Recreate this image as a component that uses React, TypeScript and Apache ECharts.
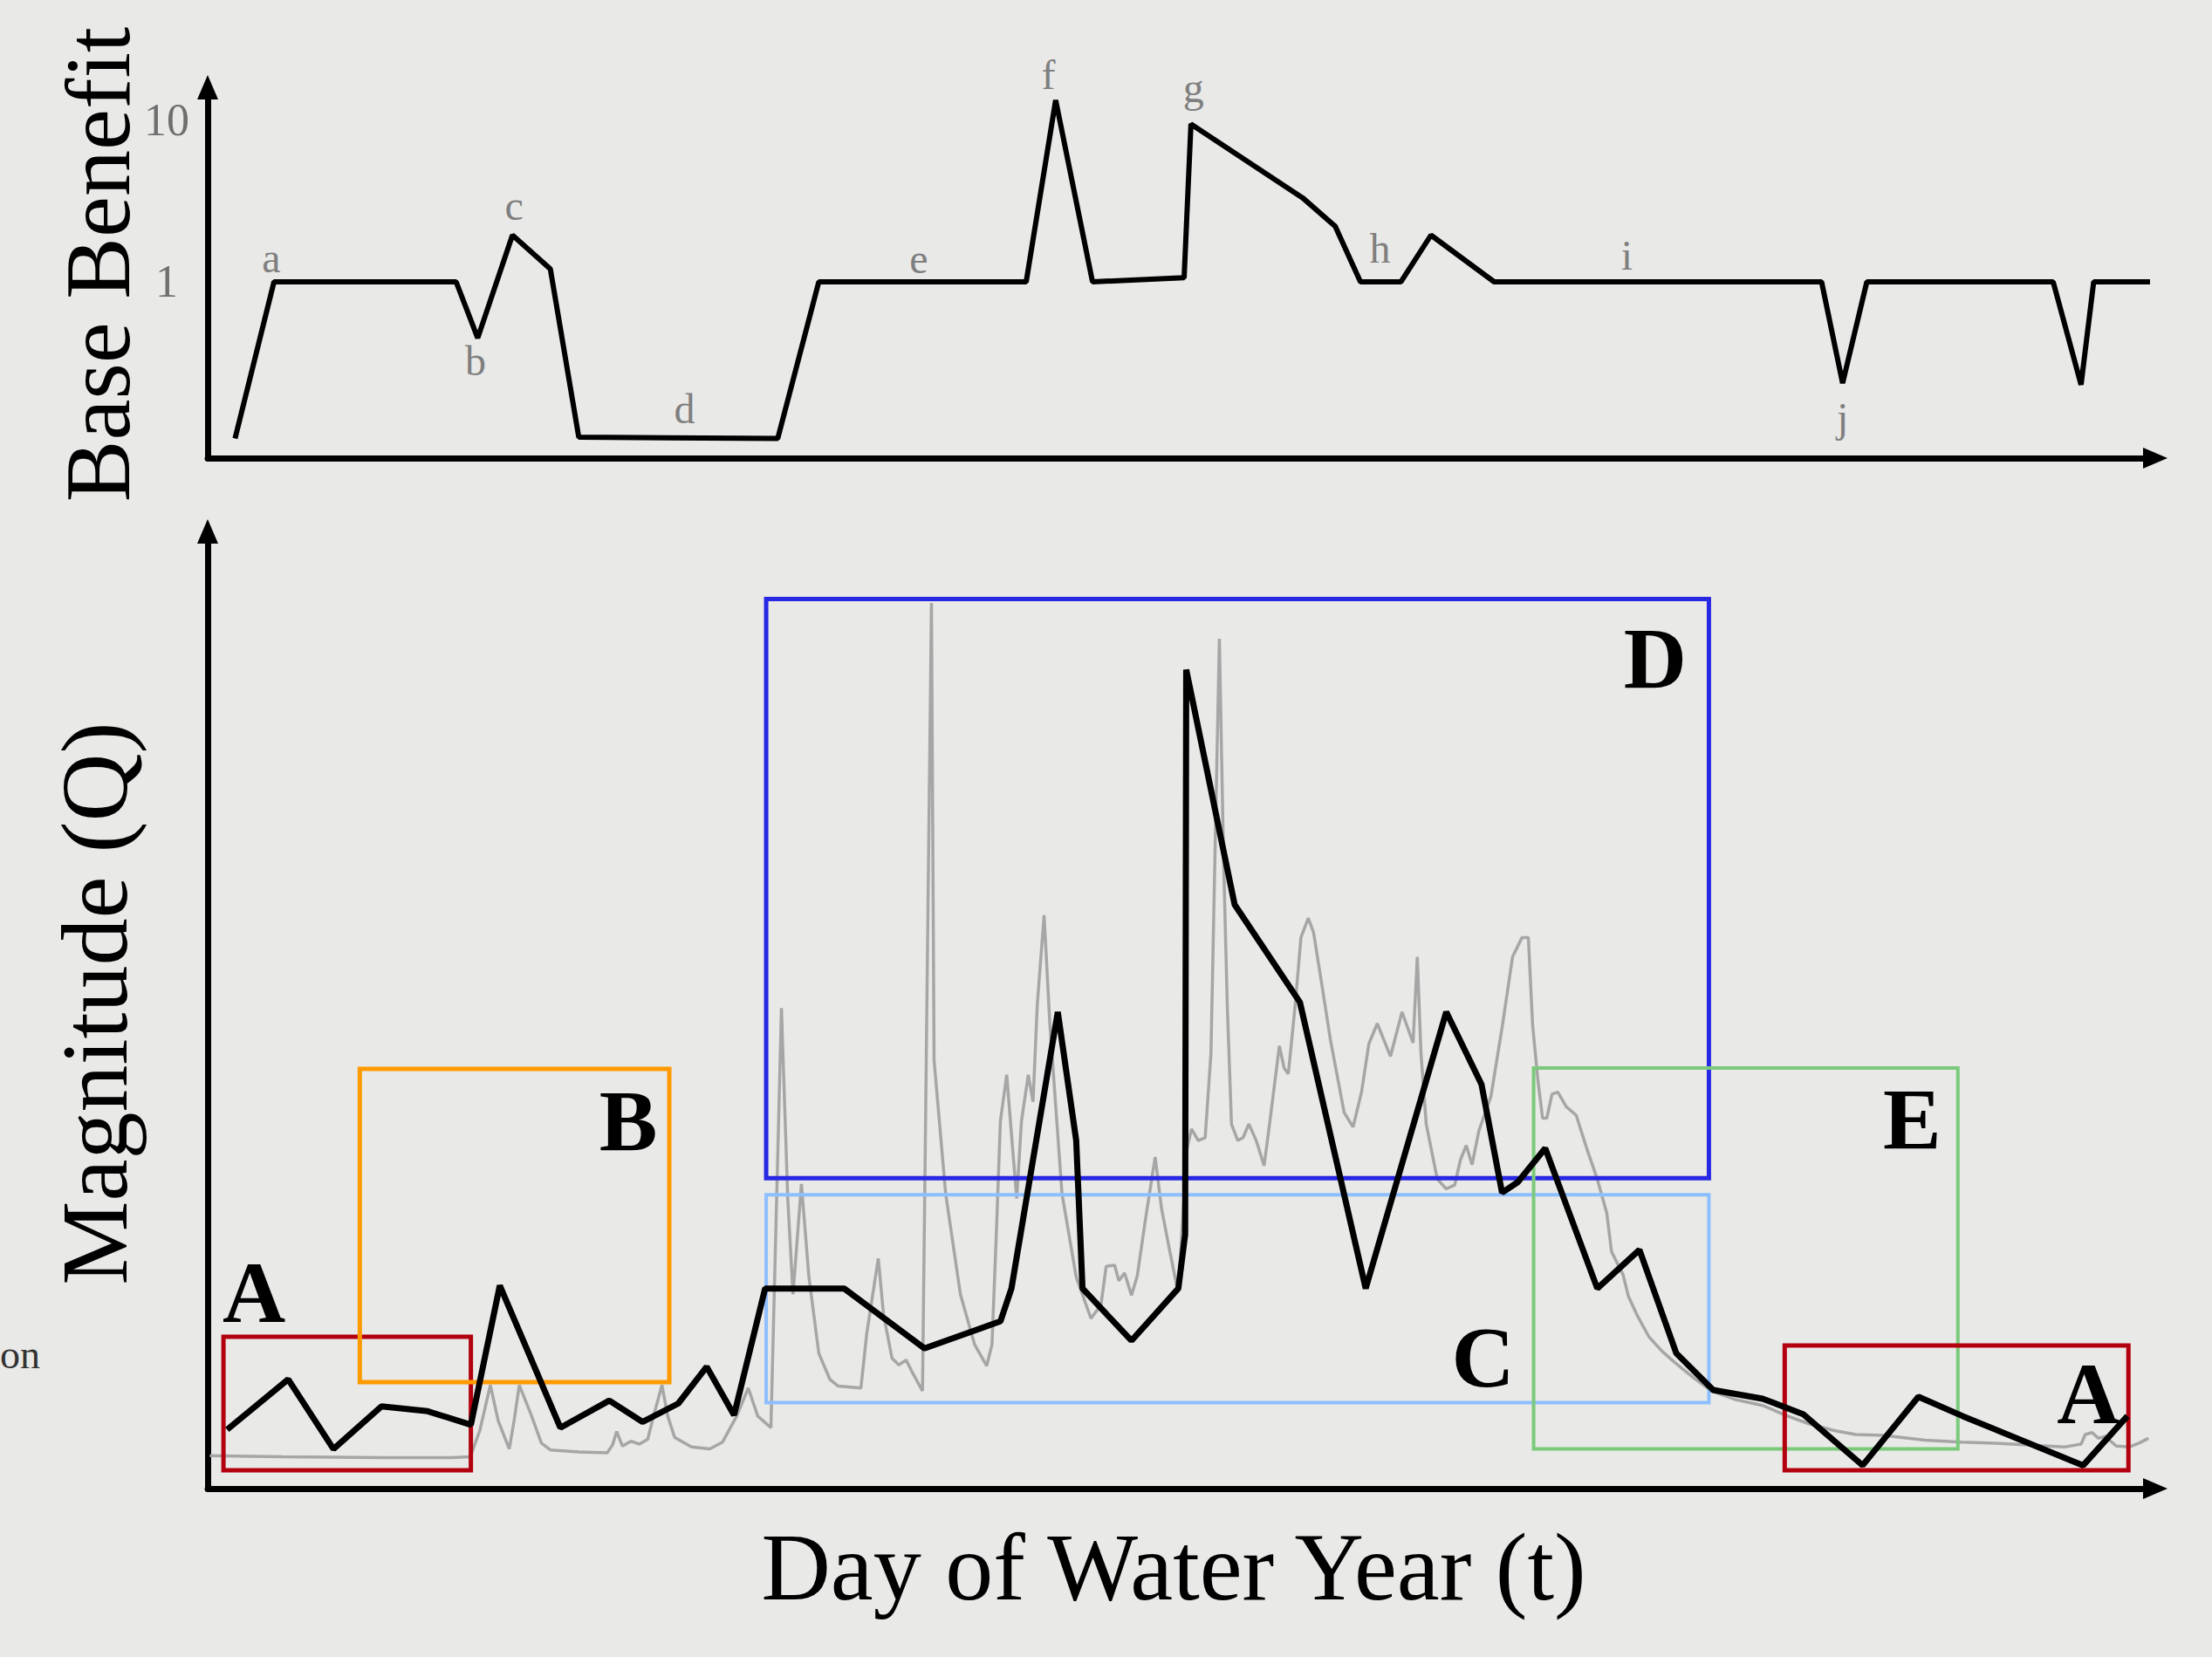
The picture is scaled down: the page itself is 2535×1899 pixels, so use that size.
import React, { useEffect, useRef } from 'react';
import * as echarts from 'echarts';

// ---------- Top panel: Base Benefit (log scale) ----------
const benefitDays = [5.2, 12.6, 47.2, 51.3, 57.9, 65.1, 70.5, 108.3, 116.1, 155.5, 161.1, 168.1, 185.5, 186.8, 208.0, 214.2, 219.0, 226.7, 232.4, 244.4, 306.6, 310.6, 315.2, 350.6, 355.9, 358.3, 369];
const benefitValues = [0.108, 1, 1, 0.45, 1.94, 1.2, 0.11, 0.108, 1, 1, 13.2, 1, 1.06, 9.4, 3.3, 2.2, 1, 1, 1.94, 1, 1, 0.237, 1, 1, 0.232, 1, 1];
const benefitTickLabels = [1, 10];

const letterNames = ['a', 'b', 'c', 'd', 'e', 'f', 'g', 'h', 'i', 'j'];
const letterDays = [12.1, 50.9, 58.2, 90.6, 135.1, 159.7, 187.3, 222.7, 269.6, 310.6];
const letterValues = [1.41, 0.326, 2.95, 0.165, 1.38, 19, 15.8, 1.62, 1.46, 0.146];

// ---------- Bottom panel: Magnitude (Q) ----------
// observed daily flow (grey)
const obsDays = [0.4, 14.2, 33.0, 46.4, 49.9, 51.7, 53.7, 55.2, 57.3, 58.2, 59.2, 61.4, 63.4, 65.1, 70.5, 75.9, 76.9, 77.7, 78.8, 80.4, 82.0, 83.6, 84.7, 86.3, 87.4, 88.7, 91.9, 95.4, 97.8, 100.5, 102.7, 104.5, 107.0, 109.0, 110.2, 111.2, 112.8, 114.2, 116.1, 118.2, 119.8, 124.1, 125.2, 127.4, 128.4, 130.0, 131.3, 132.7, 133.7, 135.8, 137.5, 138.0, 140.2, 143.0, 145.7, 148.0, 149.0, 149.8, 150.6, 151.8, 152.8, 153.7, 154.6, 155.9, 156.8, 157.6, 158.9, 160.0, 162.3, 165.0, 167.8, 169.7, 170.7, 172.3, 173.1, 174.2, 175.5, 176.6, 178.2, 180.0, 181.2, 182.8, 184.1, 184.6, 186.0, 186.9, 188.2, 189.5, 190.6, 192.2, 193.0, 193.7, 194.5, 195.7, 196.7, 197.8, 199.2, 200.7, 201.8, 203.6, 204.5, 205.3, 206.6, 207.7, 209.1, 210.1, 211.7, 213.3, 215.9, 217.6, 219.2, 220.6, 222.2, 224.7, 226.9, 229.0, 229.8, 230.5, 231.5, 233.6, 235.3, 236.9, 238.0, 239.1, 240.2, 241.5, 243.8, 246.0, 247.9, 249.7, 250.9, 251.7, 252.7, 253.6, 254.4, 255.4, 256.5, 258.1, 260.0, 262.1, 264.0, 265.8, 266.7, 268.9, 269.9, 271.5, 273.8, 276.3, 278.6, 282.2, 285.7, 290.3, 295.4, 299.7, 304.2, 309.0, 313.1, 318.4, 326.2, 333.2, 339.6, 346.5, 352.7, 355.9, 356.7, 358.0, 359.2, 360.5, 362.6, 365.0, 366.9, 368.7];
const obsQ = [3.4, 3.3, 3.2, 3.2, 3.3, 6.0, 10.7, 7.0, 4.1, 7.0, 10.7, 7.7, 4.7, 4.0, 3.8, 3.7, 4.5, 5.9, 4.4, 4.9, 4.6, 5.1, 7.5, 10.7, 7.5, 5.3, 4.3, 4.1, 4.8, 7.5, 10.4, 7.5, 6.3, 49.7, 30.0, 20.1, 31.5, 22.0, 14.0, 11.3, 10.6, 10.4, 16.0, 23.8, 18.0, 13.5, 12.8, 13.3, 12.2, 10.1, 91.6, 44.3, 30.5, 20.1, 14.9, 12.7, 14.9, 26.0, 38.0, 42.8, 36.0, 30.0, 38.0, 42.8, 40.0, 50.0, 59.3, 48.0, 30.5, 21.9, 17.6, 19.0, 23.0, 23.1, 21.5, 22.3, 20.0, 22.0, 28.0, 34.3, 29.0, 24.5, 21.0, 22.0, 35.0, 37.2, 36.0, 36.3, 45.0, 87.9, 65.0, 50.0, 37.7, 36.0, 36.3, 37.7, 36.0, 33.4, 38.0, 45.8, 43.5, 42.9, 50.0, 57.0, 59.0, 57.5, 52.0, 46.4, 38.9, 37.4, 41.0, 46.0, 48.1, 44.7, 49.3, 46.1, 55.0, 45.0, 37.7, 32.0, 31.0, 31.4, 34.0, 35.5, 33.5, 37.0, 40.6, 48.0, 55.0, 57.0, 57.0, 48.0, 42.3, 38.3, 38.3, 40.8, 41.0, 39.5, 38.6, 35.0, 32.0, 28.5, 24.5, 22.1, 19.9, 18.0, 15.7, 14.2, 13.1, 11.5, 10.1, 9.2, 8.6, 7.6, 6.7, 6.0, 5.6, 5.5, 5.0, 4.8, 4.7, 4.5, 4.3, 4.6, 5.6, 5.8, 5.2, 5.4, 4.4, 4.3, 4.7, 5.2];

// modelled / representative flow (black)
const modelDays = [3.7, 15.3, 23.9, 33.0, 41.8, 50.0, 55.5, 67.0, 76.3, 82.6, 89.4, 94.8, 100.0, 105.9, 120.9, 136.2, 150.6, 152.7, 161.5, 165.0, 166.2, 175.5, 184.4, 185.7, 185.9, 195.1, 207.5, 220.0, 235.3, 242.0, 245.9, 248.9, 254.1, 264.0, 272.0, 279.0, 286.0, 295.4, 303.1, 314.4, 325.0, 333.4, 356.3, 364.7];
const modelQ = [6.1, 11.3, 4.1, 8.5, 8.0, 6.6, 21.0, 6.3, 9.1, 6.9, 8.8, 12.6, 7.6, 20.7, 20.7, 14.5, 17.3, 20.7, 49.3, 36.0, 20.7, 15.3, 20.7, 26.3, 84.7, 60.4, 50.3, 20.7, 49.3, 41.8, 30.6, 31.7, 35.2, 20.7, 24.7, 14.0, 10.2, 9.3, 7.7, 2.4, 9.5, 7.5, 2.4, 7.5];

// annotation boxes (day range x Q range)
const boxNames = ['A', 'B', 'D', 'C', 'E', 'A'];
const boxDayStart = [3.0, 28.9, 106.1, 106.1, 251.9, 299.6];
const boxDayEnd = [50.0, 87.7, 285.2, 285.2, 332.5, 364.9];
const boxQLow = [1.9, 11.0, 32.1, 8.9, 4.1, 1.9];
const boxQHigh = [15.7, 43.4, 92.0, 30.4, 43.5, 14.8];
const boxLabelDays = [8.8, 79.9, 275.0, 242.3, 323.8, 357.3];
const boxLabelQ = [20.3, 38.0, 85.9, 13.6, 38.2, 9.8];

// styles
const BOX_COLORS = ['#b2000e', '#ff9a00', '#2727e4', '#8dbfff', '#7bca7b', '#b2000e'];
const BOX_WIDTHS = [5, 5, 5, 4, 4, 5];
const SERIF = '"Liberation Serif", "DejaVu Serif", serif';

export default function App() {
  const ref = useRef<HTMLDivElement>(null);

  useEffect(() => {
    if (!ref.current) return;
    const chart = echarts.init(ref.current, null, { renderer: 'svg' });

    const axisLine = {
      show: true,
      onZero: false,
      symbol: ['none', 'triangle'],
      symbolSize: [24, 28],
      lineStyle: { color: '#000', width: 7 },
    };

    const benefitData = benefitDays.map((d, i) => [d, benefitValues[i]]);
    const letterData = letterNames.map((n, i) => ({ name: n, value: [letterDays[i], letterValues[i]] }));
    const obsData = obsDays.map((d, i) => [d, obsQ[i]]);
    const modelData = modelDays.map((d, i) => [d, modelQ[i]]);
    const boxAreas = boxNames.map((n, i) => [
      {
        xAxis: boxDayStart[i],
        yAxis: boxQHigh[i],
        itemStyle: { color: 'rgba(0,0,0,0)', borderColor: BOX_COLORS[i], borderWidth: BOX_WIDTHS[i] },
      },
      { xAxis: boxDayEnd[i], yAxis: boxQLow[i] },
    ]);
    const boxLabelData = boxNames.map((n, i) => ({ name: n, value: [boxLabelDays[i], boxLabelQ[i]] }));

    const option = {
      animation: false,
      backgroundColor: '#e9e9e7',
      grid: [
        { left: 238, top: 100, width: 2232, height: 425 },
        { left: 238, top: 609, width: 2232, height: 1097 },
      ],
      xAxis: [
        {
          gridIndex: 0, type: 'value', min: 0, max: 370,
          axisLine, axisTick: { show: false }, axisLabel: { show: false }, splitLine: { show: false },
        },
        {
          gridIndex: 1, type: 'value', min: 0, max: 370,
          axisLine, axisTick: { show: false }, axisLabel: { show: false }, splitLine: { show: false },
        },
      ],
      yAxis: [
        {
          gridIndex: 0, type: 'log', logBase: 10, min: 0.0818, max: 15.85,
          axisLine, axisTick: { show: false }, splitLine: { show: false },
          axisLabel: {
            show: true,
            showMinLabel: true,
            showMaxLabel: true,
            margin: 47,
            align: 'center',
            fontSize: 52,
            fontFamily: SERIF,
            color: '#6f6f6f',
            formatter: (v: number) => {
              const hit = benefitTickLabels.find((t) => Math.abs(v - t) < 1e-6);
              return hit !== undefined ? String(hit) : '';
            },
          },
        },
        {
          gridIndex: 1, type: 'value', min: 0, max: 99,
          axisLine, axisTick: { show: false }, axisLabel: { show: false }, splitLine: { show: false },
        },
      ],
      series: [
        {
          type: 'line', xAxisIndex: 0, yAxisIndex: 0, data: benefitData,
          symbol: 'none', showSymbol: false, silent: true, z: 5,
          lineStyle: { color: '#000', width: 6 },
        },
        {
          type: 'scatter', xAxisIndex: 0, yAxisIndex: 0, data: letterData,
          symbolSize: 1, clip: false, silent: true, z: 6,
          itemStyle: { color: 'rgba(0,0,0,0)', opacity: 1 },
          label: {
            show: true, position: 'inside', formatter: '{b}',
            fontSize: 48, fontFamily: SERIF, color: '#7f7f7f', opacity: 1,
          },
        },
        {
          type: 'line', xAxisIndex: 1, yAxisIndex: 1, data: obsData,
          symbol: 'none', showSymbol: false, silent: true, z: 2,
          lineStyle: { color: '#a6a6a6', width: 3.5 },
          markArea: {
            silent: true,
            z: 3,
            label: { show: false },
            data: boxAreas,
          },
        },
        {
          type: 'line', xAxisIndex: 1, yAxisIndex: 1, data: modelData,
          symbol: 'none', showSymbol: false, silent: true, z: 5,
          lineStyle: { color: '#000', width: 7 },
        },
        {
          type: 'scatter', xAxisIndex: 1, yAxisIndex: 1, data: boxLabelData,
          symbolSize: 1, clip: false, silent: true, z: 6,
          itemStyle: { color: 'rgba(0,0,0,0)', opacity: 1 },
          label: {
            show: true, position: 'inside', formatter: '{b}',
            fontSize: 100, fontWeight: 'bold', fontFamily: SERIF, color: '#000', opacity: 1,
          },
        },
      ],
      graphic: [
        {
          type: 'text', x: 112, y: 303, rotation: Math.PI / 2, silent: true,
          style: { text: 'Base Benefit', fontSize: 106, fontFamily: SERIF, fill: '#000', align: 'center', verticalAlign: 'middle' },
        },
        {
          type: 'text', x: 108, y: 1150, rotation: Math.PI / 2, silent: true,
          style: { text: 'Magnitude (Q)', fontSize: 108, fontFamily: SERIF, fill: '#000', align: 'center', verticalAlign: 'middle' },
        },
        {
          type: 'text', x: 1345, y: 1796, silent: true,
          style: { text: 'Day of Water Year (t)', fontSize: 110, fontFamily: SERIF, fill: '#000', align: 'center', verticalAlign: 'middle' },
        },
        {
          type: 'text', x: 0, y: 1552, silent: true,
          style: { text: 'on', fontSize: 46, fontFamily: SERIF, fill: '#333', align: 'left', verticalAlign: 'middle' },
        },
      ],
    };

    chart.setOption(option as any);
    return () => chart.dispose();
  }, []);

  return (
    <div
      ref={ref}
      style={{ position: 'fixed', left: 0, top: 0, width: 2535, height: 1899 }}
    />
  );
}
